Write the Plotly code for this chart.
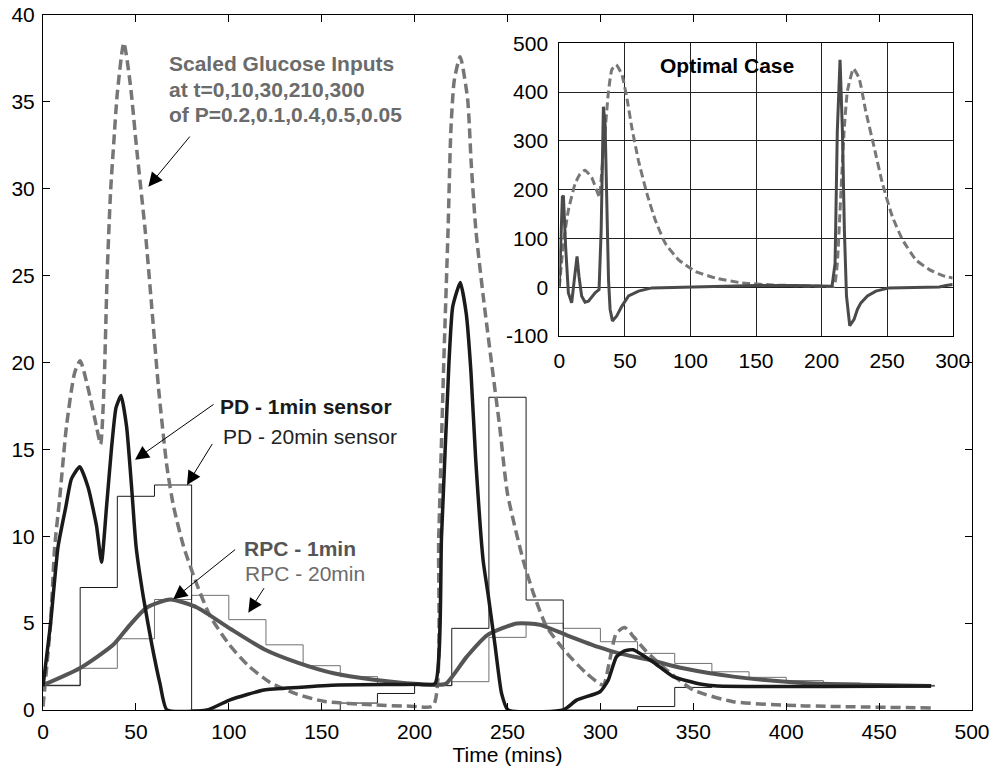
import plotly.graph_objects as go

# ---------------- main plot data ----------------
glu_t = [0, 4, 6.3, 9, 12.6, 17, 20, 24.3, 28.8, 31, 32.8, 34.6, 36.4, 38, 40, 43.5, 47, 50.5, 55, 58.6,
         62.2, 66.7, 70.3, 75.7, 82.9, 90, 100, 110, 122, 137, 151, 177, 198, 210, 213, 215.7, 218, 219.5,
         221.3, 224.5, 228.5, 230.5, 233, 237, 241.5, 245.8, 250, 258.5, 264, 271, 282, 292.6, 301.5, 305,
         308.5, 313, 318, 324, 335.7, 350, 371.5, 407, 478]
glu_v = [0.2, 4.9, 9.4, 12.2, 16.3, 19.4, 20.1, 18.5, 16.3, 15.3, 18.5, 25.3, 29.9, 32.5, 35.5, 38.4, 36, 32.2, 27.6, 23.1,
         18.5, 14.0, 11.7, 9.4, 7.2, 5.4, 3.8, 2.6, 1.6, 0.9, 0.5, 0.3, 0.22, 0.25, 10, 20, 27.6, 33.3,
         36.2, 37.6, 35.2, 31.4, 27.6, 23.75, 19.9, 16.3, 12.45, 8.6, 6.7, 4.8, 3.26, 2.1, 1.44, 2.87,
         4.4, 4.75, 4.2, 3.45, 2.3, 1.15, 0.48, 0.25, 0.12]

pd1_t = [0, 4, 8.1, 12.3, 15.3, 19.8, 24.3, 28.8, 31.5, 34.2, 36.9, 39.3, 42, 45, 47.7, 50.1, 54, 58.6, 63, 66.7,
         88.3, 101, 119, 137, 159, 202, 211, 214.5, 218.5, 220.5, 224.6, 227.8, 230.3, 232.9, 236.9, 239.5,
         243.2, 246.8, 250.3, 280, 287.2, 299.8, 304.2, 308.6, 313, 317.6, 328.5, 339.2, 353.6, 363, 478]
pd1_v = [1.36, 4.9, 9.4, 11.7, 13.3, 14.0, 12.8, 10.6, 8.5, 11.7, 15.1, 17.4, 18.1, 16.3, 12.8, 9.4, 6.5, 3.75, 1.5, 0,
         0, 0.6, 1.15, 1.3, 1.44, 1.48, 1.53, 10, 20, 23.2, 24.6, 22.8, 19.5, 14.4, 8.6, 6.7,
         3.8, 0.96, 0, 0, 0.57, 1.05, 1.72, 3.06, 3.4, 3.47, 2.75, 1.92, 1.5, 1.38, 1.38]

rpc1_t = [0, 19.8, 37.8, 46.8, 55.9, 68.5, 82.9, 101, 119, 137, 157, 177, 202, 211, 217, 228, 239, 255, 267.5,
          282, 299.6, 310, 326.7, 344.6, 371.5, 407, 440, 478]
rpc1_v = [1.43, 2.4, 3.75, 4.9, 5.9, 6.36, 5.9, 4.66, 3.5, 2.73, 2.1, 1.76, 1.49, 1.44, 1.53, 3.06, 4.3, 4.98, 4.9,
          4.3, 3.6, 3.26, 2.88, 2.4, 1.92, 1.57, 1.45, 1.38]

step_t = [0, 20, 40, 60, 80, 100, 120, 140, 160, 180, 200, 220, 240, 260, 280, 300, 320, 340, 360, 380,
          400, 420, 440, 460, 480]
pd20_v = [1.4, 7.05, 12.3, 12.95, 0, 0, 0, 0, 0.4, 0.95, 1.4, 4.7, 18.0, 6.33, 0, 0, 0.2, 1.3, 1.37, 1.38,
          1.38, 1.38, 1.38, 1.38, 1.38]
rpc20_v = [1.43, 2.4, 4.1, 6.36, 6.6, 5.2, 3.75, 2.55, 1.92, 1.53, 1.42, 1.63, 4.18, 4.99, 4.7, 3.93, 3.26, 2.68,
           2.2, 1.88, 1.69, 1.55, 1.47, 1.42, 1.42]

# ---------------- inset data ----------------
in_glu_t = [0, 3.1, 6.9, 12, 15.8, 19.6, 24.7, 28.5, 30.6, 32.4, 34.9, 37.5, 40, 43.3, 47.7, 51.5, 55.3, 60.4,
            66.8, 73.2, 80.8, 91, 103.7, 119, 139.4, 162.4, 200.6, 209.5, 212, 214.6, 217.2, 219.7, 224.3,
            228.6, 233.7, 240.1, 246.5, 254.1, 261.8, 272, 282.2, 292.4, 300]
in_glu_v = [0, 90, 158, 212, 232, 240, 225, 198, 185, 239, 320, 402, 446, 456, 436, 388, 327, 259,
            192, 137.5, 90, 56, 32.5, 19, 8.8, 4.7, 2, 2, 49, 185, 320, 402, 448,
            429, 361, 287, 212, 144, 97, 56, 36, 23.7, 19]

in_opt_t = [0, 2.3, 3.1, 4.8, 6.9, 9.4, 12, 13.5, 15, 17, 19.6, 22.2, 27.3, 30.3, 31.9, 32.9, 33.6, 34.9, 36.2,
            37.5, 38.7, 40.5, 43.8, 47.7, 52.8, 60.4, 70.6, 111.4, 149.6, 180, 208, 210.3, 212, 214.1, 215.9,
            217.4, 219, 221.5, 224.8, 227.4, 230, 235, 241.4, 251.6, 289.8, 295, 300]
in_opt_v = [2, 185, 188, 83, -11.5, -32, 29, 63, 22, -18, -30.5, -28.5, -11.5, -4.7, 117, 320, 370, 334, 185,
            15.6, -45, -69, -59, -38.6, -18, -8, -1.4, 0.7, 3.4, 3.4, 2, 49, 320, 466, 320,
            117, -18, -79, -66, -45, -32, -18, -8, -1.4, 0.7, 3.4, 5.4]

x_ticks = [0, 50, 100, 150, 200, 250, 300, 350, 400, 450, 500]
y_ticks = [0, 5, 10, 15, 20, 25, 30, 35, 40]
in_x_ticks = [0, 50, 100, 150, 200, 250, 300]
in_y_ticks = [-100, 0, 100, 200, 300, 400, 500]
in_y_text = ["-100", "0", "100", "200", "300", "400", "500"]

FONT = "Liberation Sans, Arial, sans-serif"

fig = go.Figure()

fig.add_trace(go.Scatter(x=step_t, y=rpc20_v, mode="lines", line=dict(color="#707070", width=1, shape="hv")))
fig.add_trace(go.Scatter(x=step_t, y=pd20_v, mode="lines", line=dict(color="#1a1a1a", width=1, shape="hv")))
fig.add_trace(go.Scatter(x=glu_t, y=glu_v, mode="lines",
                         line=dict(color="#767676", width=3.5, dash="10px,5px", shape="spline", smoothing=0.6)))
fig.add_trace(go.Scatter(x=rpc1_t, y=rpc1_v, mode="lines",
                         line=dict(color="#555555", width=4, shape="spline", smoothing=0.6)))
fig.add_trace(go.Scatter(x=pd1_t, y=pd1_v, mode="lines",
                         line=dict(color="#1a1a1a", width=3.5, shape="spline", smoothing=0.5)))

# inset
fig.add_trace(go.Scatter(x=in_glu_t, y=in_glu_v, mode="lines", xaxis="x2", yaxis="y2",
                         line=dict(color="#777777", width=3, dash="8px,4px", shape="spline", smoothing=0.4)))
fig.add_trace(go.Scatter(x=in_opt_t, y=in_opt_v, mode="lines", xaxis="x2", yaxis="y2",
                         line=dict(color="#4a4a4a", width=3)))

axis_common = dict(showline=True, linecolor="black", linewidth=1, mirror="ticks", ticks="inside",
                   ticklen=7, tickcolor="black", showgrid=False, zeroline=False, automargin=False,
                   tickfont=dict(family=FONT, size=21, color="black"))

fig.update_layout(
    width=995, height=775,
    margin=dict(l=43, r=23, t=15, b=65),
    paper_bgcolor="white", plot_bgcolor="white",
    showlegend=False,
    xaxis=dict(range=[0, 500], tickvals=x_ticks, ticklabelstandoff=3,
               title=dict(text="Time (mins)", font=dict(family=FONT, size=21, color="black"), standoff=2),
               **axis_common),
    yaxis=dict(range=[0, 40], tickvals=y_ticks, ticklabelstandoff=3, **axis_common),
    xaxis2=dict(domain=[0.5558, 0.9792], anchor="y2", range=[0, 300], tickvals=in_x_ticks,
                showline=True, linecolor="black", linewidth=1, mirror=True, ticks="", automargin=False,
                showgrid=True, gridcolor="#222222", gridwidth=1, zeroline=False, ticklabelstandoff=6,
                tickfont=dict(family=FONT, size=21, color="black")),
    yaxis2=dict(domain=[0.5381, 0.9593], anchor="x2", range=[-100, 500], tickvals=in_y_ticks,
                ticktext=in_y_text, showline=True, linecolor="black", linewidth=1, mirror=True, ticks="",
                automargin=False,
                showgrid=True, gridcolor="#222222", gridwidth=1, zeroline=False, ticklabelstandoff=6,
                tickfont=dict(family=FONT, size=21, color="black")),
)

ann = []
def txt(x, y, s, color, bold=False, xref="x", yref="y", xanchor="left"):
    ann.append(dict(x=x, y=y, xref=xref, yref=yref, text=("<b>%s</b>" % s) if bold else s,
                    showarrow=False, xanchor=xanchor, yanchor="middle",
                    font=dict(family=FONT, size=21, color=color)))

txt(66.9, 37.2, "Scaled Glucose Inputs", "#6b6b6b", True)
txt(66.9, 35.72, "at t=0,10,30,210,300", "#6b6b6b", True)
txt(66.9, 34.28, "of P=0.2,0.1,0.4,0.5,0.05", "#6b6b6b", True)
txt(94.4, 17.48, "PD - 1min sensor", "#1a1a1a", True)
txt(95.6, 15.75, "PD - 20min sensor", "#222222", False)
txt(106.9, 9.32, "RPC - 1min", "#555555", True)
txt(107.8, 7.88, "RPC - 20min", "#6b6b6b", False)
txt(127.7, 455, "Optimal Case", "black", True, xref="x2", yref="y2", xanchor="center")

def arrow(tx, ty, hx, hy):
    ann.append(dict(x=hx, y=hy, ax=tx, ay=ty, xref="x", yref="y", axref="x", ayref="y", text="",
                    showarrow=True, arrowhead=2, arrowsize=2.8, arrowwidth=1, arrowcolor="black",
                    standoff=0, startstandoff=0))

arrow(79.7, 33.09, 56.7, 30.12)
arrow(92.6, 17.65, 49.5, 14.4)
arrow(91.6, 15.4, 77.5, 12.95)
arrow(104.2, 9.3, 70.1, 6.37)
arrow(119.5, 7.1, 110.5, 5.6)

fig.update_layout(annotations=ann)
fig.write_html("out.html", config={"displayModeBar": False},
               post_script="document.body.style.margin='0px';")
